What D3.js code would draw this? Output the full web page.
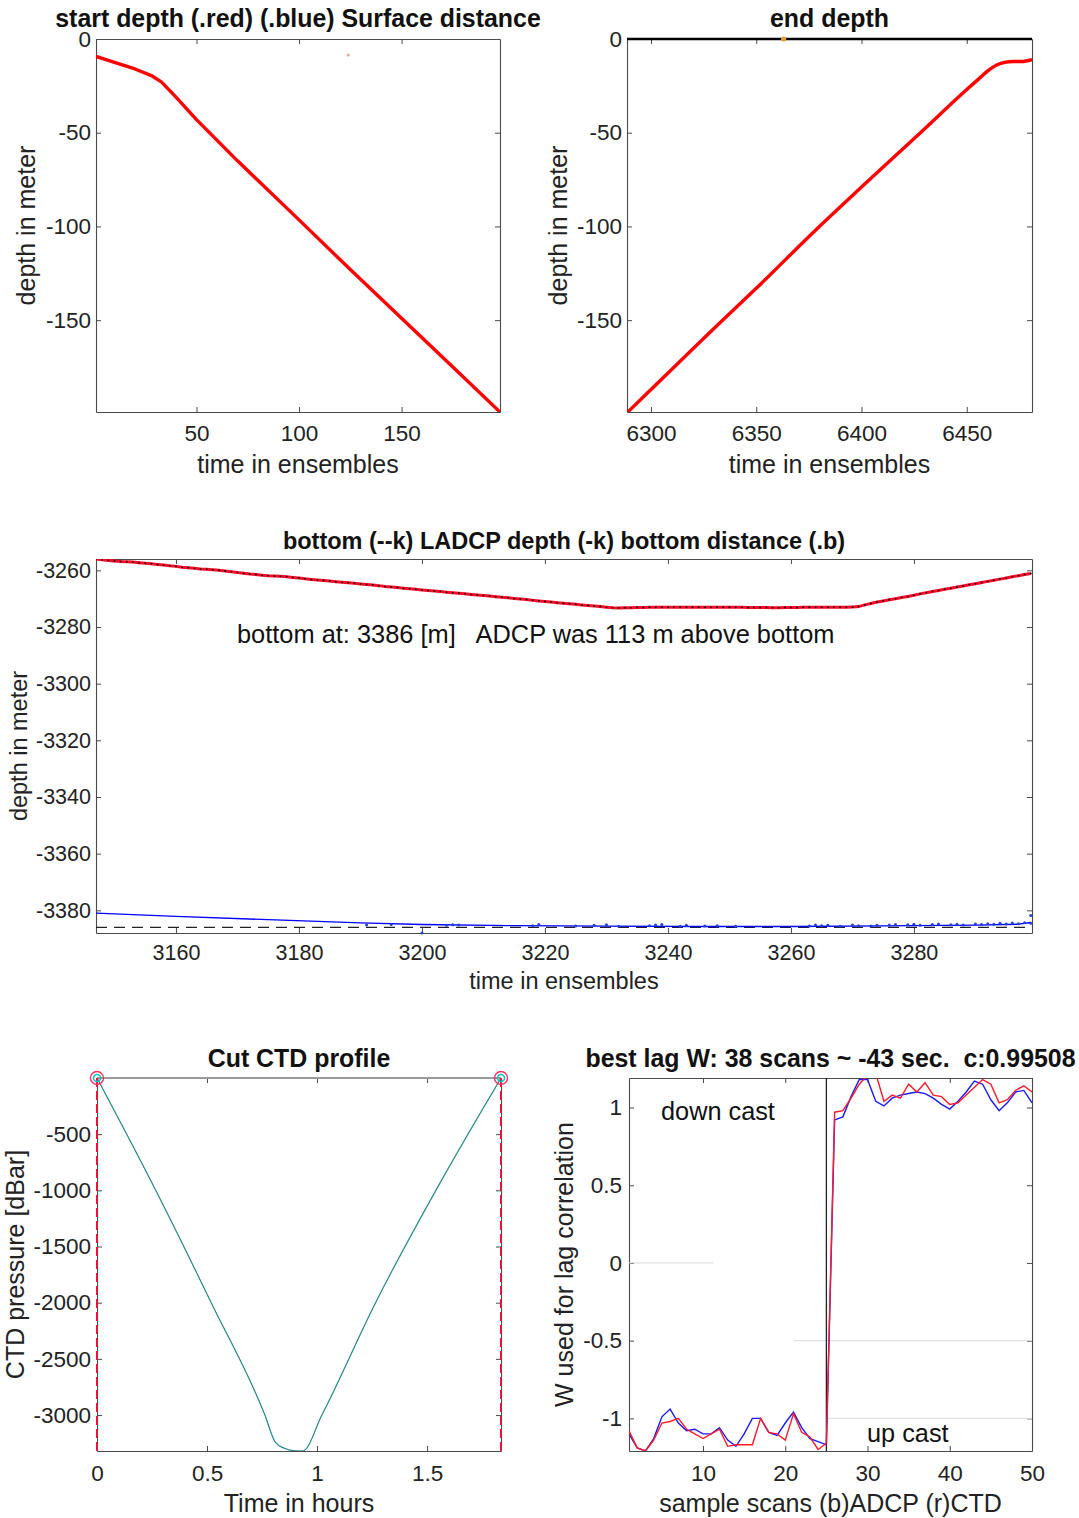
<!DOCTYPE html>
<html>
<head>
<meta charset="utf-8">
<script src="https://cdn.jsdelivr.net/npm/d3@7"></script>
<style>
  html, body { margin: 0; padding: 0; background: #fff; }
  svg { display: block; }
  text { white-space: pre; }
</style>
</head>
<body>
<svg id="fig" width="1079" height="1518"></svg>
<script>
// ---- start of cast: depth per ensemble ----
const startEns   = [1, 10, 20, 28, 33, 40, 50, 70, 100, 125, 150, 175, 198];
const startDepth = [-9.3, -12.5, -16, -19.5, -23, -31, -43, -65, -96.5, -123, -149, -175, -199];
const startStray = [[124, -8.5]];

// ---- end of cast ----
const endEns   = [6289, 6300, 6334, 6350, 6380, 6400, 6428, 6450, 6456, 6460, 6464, 6468, 6472, 6476, 6481];
const endDepth = [-199, -187, -150, -133, -100, -79, -50, -27, -21, -17, -14, -12.5, -12, -12, -11];
const endSurface = [[6288.6, 0], [6481, 0]];
const endMarker  = [[6363, 0]];

// ---- near bottom: LADCP depth, one value per ensemble from 3147 ----
const ladcpFirstEns = 3147;
const ladcpDepth = [
  -3256.0,-3256.3,-3256.5,-3256.7,-3256.9,-3257.0,-3257.1,-3257.3,-3257.5,-3257.7,
  -3257.9,-3258.1,-3258.4,-3258.6,-3258.9,-3259.1,-3259.3,-3259.5,-3259.6,-3259.8,
  -3260.0,-3260.2,-3260.5,-3260.8,-3261.0,-3261.3,-3261.5,-3261.7,-3261.9,-3262.0,
  -3262.1,-3262.3,-3262.5,-3262.7,-3263.0,-3263.2,-3263.4,-3263.6,-3263.8,-3264.0,
  -3264.2,-3264.4,-3264.6,-3264.8,-3265.0,-3265.2,-3265.4,-3265.7,-3265.9,-3266.1,
  -3266.3,-3266.5,-3266.7,-3266.9,-3267.1,-3267.3,-3267.5,-3267.7,-3267.9,-3268.1,
  -3268.3,-3268.5,-3268.7,-3268.9,-3269.1,-3269.3,-3269.5,-3269.7,-3269.9,-3270.1,
  -3270.3,-3270.6,-3270.8,-3271.0,-3271.2,-3271.4,-3271.6,-3271.8,-3272.0,-3272.2,
  -3272.4,-3272.6,-3272.8,-3273.0,-3273.2,-3273.3,
  -3273.2,-3273.2,-3273.1,-3273.1,-3273.0,-3273.0,-3273.0,-3273.0,-3273.0,-3273.0,
  -3273.0,-3273.0,-3273.0,-3273.0,-3273.0,-3273.0,-3273.0,-3273.0,-3273.0,-3273.0,
  -3273.1,-3273.1,-3273.1,-3273.1,-3273.2,-3273.2,-3273.1,-3273.1,-3273.1,-3273.0,
  -3273.0,-3273.0,-3273.0,-3273.0,-3273.0,-3273.0,-3273.0,-3272.9,
  -3272.8,-3272.2,-3271.7,-3271.2,-3270.8,-3270.4,-3270.0,-3269.6,-3269.2,-3268.8,
  -3268.3,-3267.9,-3267.5,-3267.1,-3266.7,-3266.3,-3265.9,-3265.5,-3265.1,-3264.7,
  -3264.3,-3263.9,-3263.5,-3263.1,-3262.7,-3262.3,-3261.9,-3261.5,-3261.1
];
// bottom distance track (line) and individual bottom hits (dots)
const btmEns   = [3147, 3160, 3175, 3190, 3200, 3215, 3230, 3245, 3260, 3275, 3290, 3297, 3299];
const btmDepth = [-3381.0, -3382.1, -3383.3, -3384.4, -3385.0, -3385.4, -3385.6, -3385.7, -3385.7, -3385.5, -3385.2, -3384.9, -3384.3];
const hitEns   = [3191, 3195, 3200, 3204, 3205, 3206, 3218, 3219, 3225, 3228, 3230, 3232, 3237, 3238, 3239, 3242, 3243, 3246, 3248, 3251,
                  3263, 3264, 3265, 3266, 3268, 3270, 3271, 3273, 3274, 3276, 3277, 3279, 3280, 3281, 3283, 3284, 3286, 3287, 3288,
                  3290, 3291, 3292, 3293, 3294, 3295, 3296, 3297, 3298, 3299, 3299];
const hitDepth = [-3385.2, -3385.0, -3388.0, -3385.3, -3385.1, -3385.2, -3385.4, -3385.0, -3385.5, -3385.3, -3385.1, -3385.6, -3385.4, -3385.2, -3385.0, -3385.6, -3385.3, -3385.5, -3385.4, -3385.6,
                  -3385.5, -3385.2, -3385.4, -3385.3, -3385.6, -3385.2, -3385.4, -3385.5, -3385.3, -3385.2, -3385.0, -3385.1, -3384.9, -3385.3, -3385.0, -3384.8, -3385.1, -3384.9, -3385.2,
                  -3384.8, -3385.0, -3384.7, -3384.9, -3384.6, -3384.8, -3384.5, -3384.7, -3384.4, -3384.6, -3381.8];
const bottomDepth = -3386;
const bottomNote = "bottom at: 3386 [m]   ADCP was 113 m above bottom";

// ---- CTD pressure time series ----
const ctdHours = [0, 0.267, 0.519, 0.763, 0.81, 0.857, 0.90, 0.935, 1.022, 1.266, 1.54, 1.836];
const ctdPres  = [0, -1000, -2000, -3000, -3240, -3300, -3318, -3320, -3000, -2000, -1000, 0];
const cutHours = [0, 1.836];

// ---- vertical velocity used for lag correlation ----
const scans = [1,2,3,4,5,6,7,8,9,10,11,12,13,14,15,16,17,18,19,20,21,22,23,24,25,
               26,27,28,29,30,31,32,33,34,35,36,37,38,39,40,41,42,43,44,45,46,47,48,49,50];
const wAdcp = [-1.10,-1.19,-1.21,-1.13,-0.99,-0.94,-1.03,-1.08,-1.07,-1.10,-1.10,-1.06,-1.14,-1.18,-1.10,-1.00,-1.00,-1.09,-1.11,-1.03,-0.96,-1.06,-1.13,-1.15,-1.17,
               0.92,0.94,1.07,1.18,1.18,1.04,1.01,1.06,1.08,1.09,1.10,1.09,1.06,1.02,0.99,1.04,1.10,1.17,1.15,1.05,0.98,1.03,1.10,1.11,1.03];
const wCtd  = [-1.08,-1.19,-1.21,-1.14,-1.03,-1.02,-1.00,-1.07,-1.10,-1.13,-1.10,-1.07,-1.18,-1.17,-1.17,-1.17,-1.00,-1.09,-1.10,-1.14,-0.97,-1.09,-1.12,-1.20,-1.16,
               0.97,0.98,1.06,1.15,1.21,1.22,1.04,1.08,1.06,1.15,1.10,1.16,1.08,1.07,1.02,1.03,1.08,1.13,1.18,1.15,1.03,1.05,1.11,1.14,1.10];
const castSplit = 25;
const faintLines = [[[1, 0], [11.3, 0]], [[21, -0.5], [50, -0.5]], [[25, -1], [50, -1]]];

// ---- tick values ----
const ticksTopY   = [0, -50, -100, -150];
const ticksStartX = [50, 100, 150];
const ticksEndX   = [6300, 6350, 6400, 6450];
const ticksBtmX   = [3160, 3180, 3200, 3220, 3240, 3260, 3280];
const ticksBtmY   = [-3260, -3280, -3300, -3320, -3340, -3360, -3380];
const ticksCtdX   = [0, 0.5, 1, 1.5];
const ticksCtdY   = [-500, -1000, -1500, -2000, -2500, -3000];
const ticksLagX   = [10, 20, 30, 40, 50];
const ticksLagY   = [1, 0.5, 0, -0.5, -1];

const FONT = '"Liberation Sans", Arial, Helvetica, sans-serif';
const AXC = '#4a4a4a';
const svg = d3.select('#fig');
svg.append('rect').attr('width', 1079).attr('height', 1518).attr('fill', '#fff');

let clipN = 0;
function makeAxes(p) {
  const x = d3.scaleLinear().domain(p.xDomain).range([p.left, p.right]);
  const y = d3.scaleLinear().domain(p.yDomain).range([p.bottom, p.top]);
  const id = 'clip' + (clipN++);
  svg.append('clipPath').attr('id', id).append('rect')
    .attr('x', p.left).attr('y', p.top).attr('width', p.right - p.left).attr('height', p.bottom - p.top);
  const g = svg.append('g');
  const fmt = d => String(d);
  const TL = 5;
  const ax = g.append('g');
  ax.append('g').attr('transform', `translate(0,${p.bottom})`)
    .call(d3.axisBottom(x).tickValues(p.xTicks).tickSizeInner(-TL).tickSizeOuter(0).tickPadding(p.xPad).tickFormat(fmt));
  ax.append('g').attr('transform', `translate(0,${p.top})`)
    .call(d3.axisTop(x).tickValues(p.xTicks).tickSizeInner(-TL).tickSizeOuter(0).tickFormat(''));
  ax.append('g').attr('transform', `translate(${p.left},0)`)
    .call(d3.axisLeft(y).tickValues(p.yTicks).tickSizeInner(-TL).tickSizeOuter(0).tickPadding(p.yPad).tickFormat(fmt));
  ax.append('g').attr('transform', `translate(${p.right},0)`)
    .call(d3.axisRight(y).tickValues(p.yTicks).tickSizeInner(-TL).tickSizeOuter(0).tickFormat(''));
  ax.selectAll('.domain').attr('stroke', AXC).attr('stroke-width', 1.1);
  ax.selectAll('.tick line').attr('stroke', AXC).attr('stroke-width', 1);
  ax.selectAll('.tick text').attr('font-family', FONT).attr('font-size', p.tickFs).attr('fill', '#222');
  const plot = g.append('g').attr('clip-path', `url(#${id})`);
  // titles and labels
  const cx = (p.left + p.right) / 2;
  g.append('text').attr('x', cx).attr('y', p.titleY).attr('text-anchor', 'middle')
    .attr('font-family', FONT).attr('font-weight', 'bold').attr('font-size', p.titleFs).attr('fill', '#111').text(p.title);
  g.append('text').attr('x', cx).attr('y', p.xlabY).attr('text-anchor', 'middle')
    .attr('font-family', FONT).attr('font-size', p.labFs).attr('fill', '#222').text(p.xlab);
  g.append('text').attr('transform', `translate(${p.ylabX},${(p.top + p.bottom) / 2}) rotate(-90)`)
    .attr('text-anchor', 'middle').attr('font-family', FONT).attr('font-size', p.labFs).attr('fill', '#222').text(p.ylab);
  return { x, y, g, plot };
}

// ===== start depth =====
{
  const A = makeAxes({ left: 96, right: 500, top: 39, bottom: 412, xDomain: [1, 198], yDomain: [-199, 0],
    xTicks: ticksStartX, yTicks: ticksTopY, tickFs: 22.5, xPad: 13, yPad: 5,
    title: 'start depth (.red) (.blue) Surface distance', titleY: 26.5, titleFs: 24.9,
    xlab: 'time in ensembles', xlabY: 473, ylab: 'depth in meter', ylabX: 35, labFs: 25 });
  const pts = startEns.map((e, i) => [e, startDepth[i]]);
  A.plot.append('path').datum(pts)
    .attr('d', d3.line().x(d => A.x(d[0])).y(d => A.y(d[1])))
    .attr('fill', 'none').attr('stroke', '#ff0000').attr('stroke-width', 3.4).attr('stroke-linejoin', 'round');
  A.plot.selectAll('circle.stray').data(startStray).join('circle')
    .attr('cx', d => A.x(d[0])).attr('cy', d => A.y(d[1])).attr('r', 1.5).attr('fill', '#f3a0a0');
}

// ===== end depth =====
{
  const A = makeAxes({ left: 627, right: 1032, top: 39, bottom: 412, xDomain: [6288.6, 6481], yDomain: [-199, 0],
    xTicks: ticksEndX, yTicks: ticksTopY, tickFs: 22.5, xPad: 13, yPad: 5,
    title: 'end depth', titleY: 26.5, titleFs: 24.9,
    xlab: 'time in ensembles', xlabY: 473, ylab: 'depth in meter', ylabX: 567, labFs: 25 });
  A.g.append('path').datum(endSurface)
    .attr('d', d3.line().x(d => A.x(d[0])).y(d => A.y(d[1])))
    .attr('fill', 'none').attr('stroke', '#000').attr('stroke-width', 2.6);
  const pts = endEns.map((e, i) => [e, endDepth[i]]);
  A.plot.append('path').datum(pts)
    .attr('d', d3.line().curve(d3.curveMonotoneX).x(d => A.x(d[0])).y(d => A.y(d[1])))
    .attr('fill', 'none').attr('stroke', '#ff0000').attr('stroke-width', 3.4).attr('stroke-linejoin', 'round');
  A.g.selectAll('circle.mk').data(endMarker).join('circle')
    .attr('cx', d => A.x(d[0])).attr('cy', d => A.y(d[1])).attr('r', 2.6).attr('fill', '#e0a030');
}

// ===== bottom =====
{
  const A = makeAxes({ left: 96, right: 1032, top: 559, bottom: 933, xDomain: [3147, 3299.2], yDomain: [-3388, -3256],
    xTicks: ticksBtmX, yTicks: ticksBtmY, tickFs: 21.5, xPad: 12, yPad: 5,
    title: 'bottom (--k) LADCP depth (-k) bottom distance (.b)', titleY: 549, titleFs: 23.5,
    xlab: 'time in ensembles', xlabY: 989, ylab: 'depth in meter', ylabX: 27, labFs: 23.5 });
  const pts = ladcpDepth.map((v, i) => [ladcpFirstEns + i, v]);
  const line = d3.line().x(d => A.x(d[0])).y(d => A.y(d[1]));
  A.plot.append('path').datum(pts).attr('d', line)
    .attr('fill', 'none').attr('stroke', '#ff0a2a').attr('stroke-width', 3);
  A.plot.selectAll('circle.ladcp').data(pts).join('circle')
    .attr('cx', d => A.x(d[0])).attr('cy', d => A.y(d[1])).attr('r', 1.0).attr('fill', '#2a0008');
  // bottom line
  A.plot.append('line').attr('x1', A.x(3147)).attr('x2', A.x(3299.2))
    .attr('y1', A.y(bottomDepth)).attr('y2', A.y(bottomDepth))
    .attr('stroke', '#222').attr('stroke-width', 1.1).attr('stroke-dasharray', '11,7');
  const bpts = btmEns.map((e, i) => [e, btmDepth[i]]);
  A.plot.append('path').datum(bpts).attr('d', line)
    .attr('fill', 'none').attr('stroke', '#0000ff').attr('stroke-width', 1.3);
  const hits = hitEns.map((e, i) => [e, hitDepth[i]]);
  A.g.selectAll('circle.hit').data(hits).join('circle')
    .attr('cx', d => A.x(d[0])).attr('cy', d => A.y(d[1])).attr('r', 1.5).attr('fill', '#1f3fe0');
  A.g.append('text').attr('x', 237).attr('y', 643).attr('font-family', FONT).attr('font-size', 25.4)
    .attr('fill', '#111').text(bottomNote);
}

// ===== Cut CTD profile =====
{
  const A = makeAxes({ left: 97, right: 501, top: 1078, bottom: 1451, xDomain: [0, 1.836], yDomain: [-3320, 0],
    xTicks: ticksCtdX, yTicks: ticksCtdY, tickFs: 22.5, xPad: 14, yPad: 6,
    title: 'Cut CTD profile', titleY: 1067, titleFs: 24.9,
    xlab: 'Time in hours', xlabY: 1512, ylab: 'CTD pressure [dBar]', ylabX: 24, labFs: 25 });
  A.g.append('line').attr('x1', A.x(0)).attr('x2', A.x(1.836)).attr('y1', A.y(0)).attr('y2', A.y(0))
    .attr('stroke', '#9a9a9a').attr('stroke-width', 2);
  const pts = ctdHours.map((h, i) => [h, ctdPres[i]]);
  const line = d3.line().curve(d3.curveMonotoneX).x(d => A.x(d[0])).y(d => A.y(d[1]));
  A.plot.append('path').datum(pts).attr('d', line)
    .attr('fill', 'none').attr('stroke', '#30b4b4').attr('stroke-width', 1.2);
  A.plot.append('path').datum(pts).attr('d', line)
    .attr('fill', 'none').attr('stroke', '#404848').attr('stroke-width', 0.7).attr('opacity', 0.7);
  A.g.selectAll('line.cut').data(cutHours).join('line')
    .attr('x1', d => A.x(d)).attr('x2', d => A.x(d)).attr('y1', A.y(0)).attr('y2', A.y(-3320))
    .attr('stroke', '#e8123a').attr('stroke-width', 2).attr('stroke-dasharray', '9,4');
  A.g.selectAll('circle.cutr').data(cutHours).join('circle')
    .attr('cx', d => A.x(d)).attr('cy', A.y(0)).attr('r', 6.5)
    .attr('fill', 'none').attr('stroke', '#ff3060').attr('stroke-width', 1.4);
  A.g.selectAll('circle.cutc').data(cutHours).join('circle')
    .attr('cx', d => A.x(d)).attr('cy', A.y(0)).attr('r', 3.5)
    .attr('fill', 'none').attr('stroke', '#00c8c0').attr('stroke-width', 1.6);
}

// ===== best lag =====
{
  const A = makeAxes({ left: 629, right: 1032, top: 1078, bottom: 1451, xDomain: [1, 50], yDomain: [-1.21, 1.19],
    xTicks: ticksLagX, yTicks: ticksLagY, tickFs: 22.5, xPad: 14, yPad: 7,
    title: 'best lag W: 38 scans ~ -43 sec.  c:0.99508', titleY: 1067, titleFs: 24.9,
    xlab: 'sample scans (b)ADCP (r)CTD', xlabY: 1512, ylab: 'W used for lag correlation', ylabX: 573, labFs: 25 });
  const line = d3.line().x(d => A.x(d[0])).y(d => A.y(d[1]));
  A.plot.selectAll('path.faint').data(faintLines).join('path')
    .attr('d', line).attr('fill', 'none').attr('stroke', '#dcdcdc').attr('stroke-width', 1);
  A.plot.append('line').attr('x1', A.x(castSplit)).attr('x2', A.x(castSplit))
    .attr('y1', A.y(1.19)).attr('y2', A.y(-1.21)).attr('stroke', '#222').attr('stroke-width', 1.3);
  A.plot.append('path').datum(scans.map((s, i) => [s, wAdcp[i]])).attr('d', line)
    .attr('fill', 'none').attr('stroke', '#1a1aff').attr('stroke-width', 1.4);
  A.plot.append('path').datum(scans.map((s, i) => [s, wCtd[i]])).attr('d', line)
    .attr('fill', 'none').attr('stroke', '#ff1a2a').attr('stroke-width', 1.4);
  A.g.append('text').attr('x', 661).attr('y', 1120).attr('font-family', FONT).attr('font-size', 25.3)
    .attr('fill', '#111').text('down cast');
  A.g.append('text').attr('x', 867).attr('y', 1442).attr('font-family', FONT).attr('font-size', 25.3)
    .attr('fill', '#111').text('up cast');
}
</script>
</body>
</html>
